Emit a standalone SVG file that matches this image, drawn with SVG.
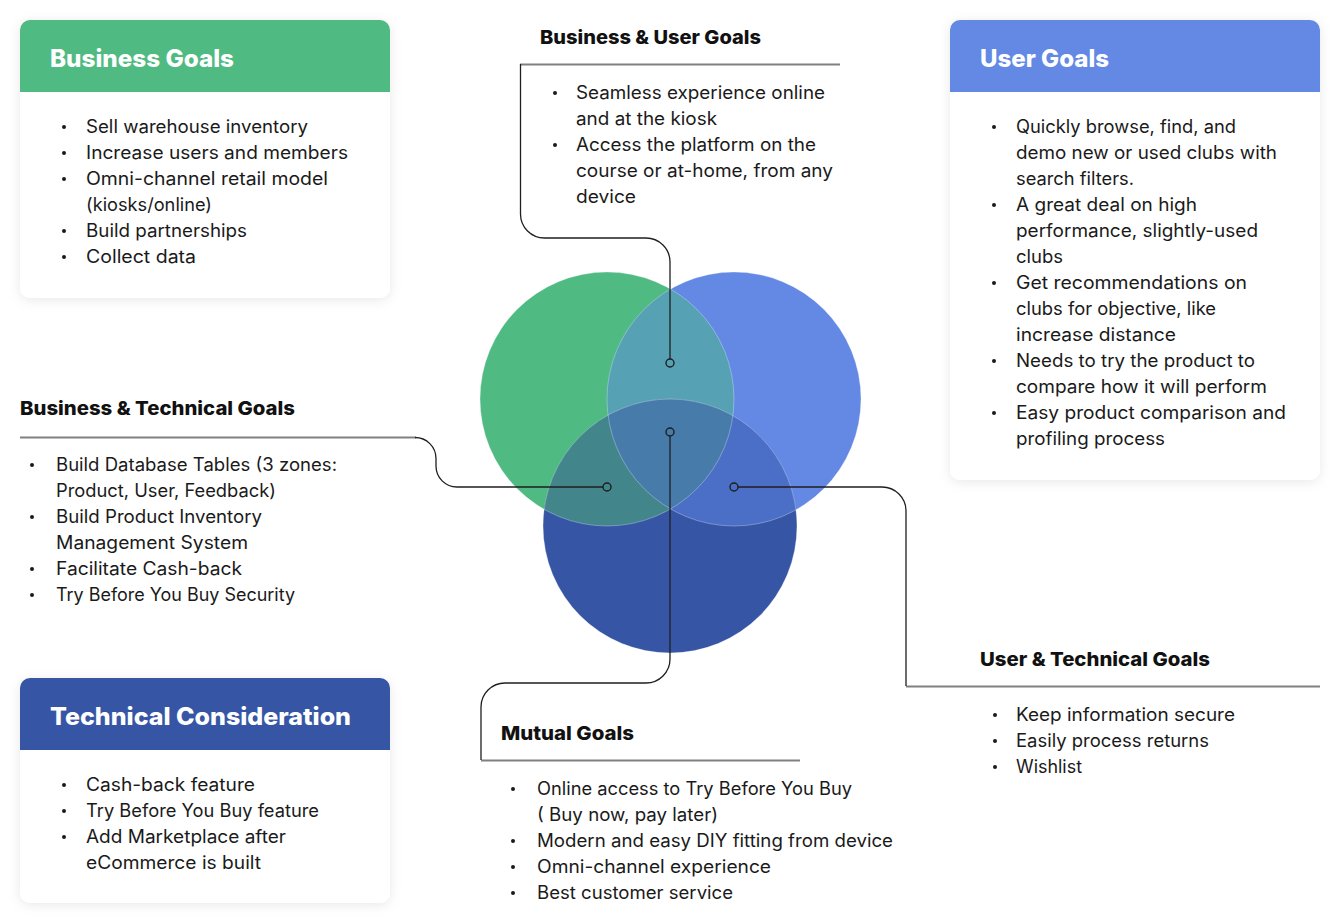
<svg xmlns="http://www.w3.org/2000/svg" width="1340" height="924" viewBox="0 0 1340 924">
<style>
.body{font-family:Inter,"Open Sans","Liberation Sans",sans-serif;font-size:18px;fill:#1a1a1a;}
.title{font-family:Inter,"Open Sans","Liberation Sans",sans-serif;font-size:24px;font-weight:800;fill:#ffffff;}
.sub{font-family:Inter,"Open Sans","Liberation Sans",sans-serif;font-size:19px;font-weight:800;fill:#111111;}
.card{fill:#ffffff;}
.bul{fill:#1a1a1a;}
.div{stroke:#808080;stroke-width:2;fill:none;}
.con{stroke:#1f1f1f;stroke-width:1.3;fill:none;}
.dot{stroke:#1f1f1f;stroke-width:1.4;fill:none;}
.edge{fill:none;stroke:#ffffff;stroke-opacity:0.3;stroke-width:1;}
</style>
<defs>
<filter id="sh" x="-10%" y="-10%" width="120%" height="120%">
<feDropShadow dx="0" dy="2" stdDeviation="6" flood-color="#000000" flood-opacity="0.09"/>
</filter>
<clipPath id="cG"><circle cx="607" cy="399" r="127"/></clipPath>
<clipPath id="cB"><circle cx="734" cy="399" r="127"/></clipPath>
</defs>
<rect width="1340" height="924" fill="#ffffff"/>

<g id="venn">
<circle cx="607" cy="399" r="127" fill="#4fba82"/>
<circle cx="734" cy="399" r="127" fill="#6389e5"/>
<circle cx="670" cy="526" r="127" fill="#3656a5"/>
<circle cx="734" cy="399" r="127" fill="#56a1b4" clip-path="url(#cG)"/>
<circle cx="670" cy="526" r="127" fill="#42868b" clip-path="url(#cG)"/>
<circle cx="670" cy="526" r="127" fill="#4b6fc7" clip-path="url(#cB)"/>
<g clip-path="url(#cG)"><circle cx="670" cy="526" r="127" fill="#477baa" clip-path="url(#cB)"/></g>
<circle class="edge" cx="607" cy="399" r="127"/>
<circle class="edge" cx="734" cy="399" r="127"/>
<circle class="edge" cx="670" cy="526" r="127"/>
</g>

<g id="business-goals">
<rect class="card" x="20" y="20" width="370" height="278" rx="10" filter="url(#sh)"/>
<path d="M20,92 V30 A10,10 0 0 1 30,20 H380 A10,10 0 0 1 390,30 V92 Z" fill="#4fba82"/>
<text class="title" x="50" y="67" textLength="184" lengthAdjust="spacingAndGlyphs">Business Goals</text>
<circle class="bul" cx="64" cy="127" r="2"/>
<circle class="bul" cx="64" cy="153" r="2"/>
<circle class="bul" cx="64" cy="179" r="2"/>
<circle class="bul" cx="64" cy="231" r="2"/>
<circle class="bul" cx="64" cy="257" r="2"/>
<text class="body" x="86" y="133" textLength="222" lengthAdjust="spacingAndGlyphs">Sell warehouse inventory</text>
<text class="body" x="86" y="159" textLength="262" lengthAdjust="spacingAndGlyphs">Increase users and members</text>
<text class="body" x="86" y="185" textLength="242" lengthAdjust="spacingAndGlyphs">Omni-channel retail model</text>
<text class="body" x="86" y="211" textLength="126" lengthAdjust="spacingAndGlyphs">(kiosks/online)</text>
<text class="body" x="86" y="237" textLength="161" lengthAdjust="spacingAndGlyphs">Build partnerships</text>
<text class="body" x="86" y="263" textLength="110" lengthAdjust="spacingAndGlyphs">Collect data</text>
</g>

<g id="user-goals">
<rect class="card" x="950" y="20" width="370" height="460" rx="10" filter="url(#sh)"/>
<path d="M950,92 V30 A10,10 0 0 1 960,20 H1310 A10,10 0 0 1 1320,30 V92 Z" fill="#6389e5"/>
<text class="title" x="980" y="67" textLength="129" lengthAdjust="spacingAndGlyphs">User Goals</text>
<circle class="bul" cx="994" cy="127" r="2"/>
<circle class="bul" cx="994" cy="205" r="2"/>
<circle class="bul" cx="994" cy="283" r="2"/>
<circle class="bul" cx="994" cy="361" r="2"/>
<circle class="bul" cx="994" cy="413" r="2"/>
<text class="body" x="1016" y="133" textLength="220" lengthAdjust="spacingAndGlyphs">Quickly browse, find, and</text>
<text class="body" x="1016" y="159" textLength="261" lengthAdjust="spacingAndGlyphs">demo new or used clubs with</text>
<text class="body" x="1016" y="185" textLength="118" lengthAdjust="spacingAndGlyphs">search filters.</text>
<text class="body" x="1016" y="211" textLength="181" lengthAdjust="spacingAndGlyphs">A great deal on high</text>
<text class="body" x="1016" y="237" textLength="242" lengthAdjust="spacingAndGlyphs">performance, slightly-used</text>
<text class="body" x="1016" y="263" textLength="47" lengthAdjust="spacingAndGlyphs">clubs</text>
<text class="body" x="1016" y="289" textLength="231" lengthAdjust="spacingAndGlyphs">Get recommendations on</text>
<text class="body" x="1016" y="315" textLength="200" lengthAdjust="spacingAndGlyphs">clubs for objective, like</text>
<text class="body" x="1016" y="341" textLength="160" lengthAdjust="spacingAndGlyphs">increase distance</text>
<text class="body" x="1016" y="367" textLength="239" lengthAdjust="spacingAndGlyphs">Needs to try the product to</text>
<text class="body" x="1016" y="393" textLength="251" lengthAdjust="spacingAndGlyphs">compare how it will perform</text>
<text class="body" x="1016" y="419" textLength="270" lengthAdjust="spacingAndGlyphs">Easy product comparison and</text>
<text class="body" x="1016" y="445" textLength="149" lengthAdjust="spacingAndGlyphs">profiling process</text>
</g>

<g id="technical-consideration">
<rect class="card" x="20" y="678" width="370" height="225" rx="10" filter="url(#sh)"/>
<path d="M20,750 V688 A10,10 0 0 1 30,678 H380 A10,10 0 0 1 390,688 V750 Z" fill="#3656a5"/>
<text class="title" x="50" y="725" textLength="301" lengthAdjust="spacingAndGlyphs">Technical Consideration</text>
<circle class="bul" cx="64" cy="785" r="2"/>
<circle class="bul" cx="64" cy="811" r="2"/>
<circle class="bul" cx="64" cy="837" r="2"/>
<text class="body" x="86" y="791" textLength="169" lengthAdjust="spacingAndGlyphs">Cash-back feature</text>
<text class="body" x="86" y="817" textLength="233" lengthAdjust="spacingAndGlyphs">Try Before You Buy feature</text>
<text class="body" x="86" y="843" textLength="200" lengthAdjust="spacingAndGlyphs">Add Marketplace after</text>
<text class="body" x="86" y="869" textLength="175" lengthAdjust="spacingAndGlyphs">eCommerce is built</text>
</g>

<g id="business-user-goals">
<text class="sub" x="540" y="44" textLength="221" lengthAdjust="spacingAndGlyphs">Business &amp; User Goals</text>
<path class="div" d="M520,64.5 H840"/>
<circle class="bul" cx="555" cy="93" r="2"/>
<circle class="bul" cx="555" cy="145" r="2"/>
<text class="body" x="576" y="99" textLength="249" lengthAdjust="spacingAndGlyphs">Seamless experience online</text>
<text class="body" x="576" y="125" textLength="141" lengthAdjust="spacingAndGlyphs">and at the kiosk</text>
<text class="body" x="576" y="151" textLength="240" lengthAdjust="spacingAndGlyphs">Access the platform on the</text>
<text class="body" x="576" y="177" textLength="257" lengthAdjust="spacingAndGlyphs">course or at-home, from any</text>
<text class="body" x="576" y="203" textLength="60" lengthAdjust="spacingAndGlyphs">device</text>
</g>

<g id="business-technical-goals">
<text class="sub" x="20" y="415" textLength="275" lengthAdjust="spacingAndGlyphs">Business &amp; Technical Goals</text>
<path class="div" d="M20,437.5 H416"/>
<circle class="bul" cx="32" cy="465" r="2"/>
<circle class="bul" cx="32" cy="517" r="2"/>
<circle class="bul" cx="32" cy="569" r="2"/>
<circle class="bul" cx="32" cy="595" r="2"/>
<text class="body" x="56" y="471" textLength="281" lengthAdjust="spacingAndGlyphs">Build Database Tables (3 zones:</text>
<text class="body" x="56" y="497" textLength="220" lengthAdjust="spacingAndGlyphs">Product, User, Feedback)</text>
<text class="body" x="56" y="523" textLength="206" lengthAdjust="spacingAndGlyphs">Build Product Inventory</text>
<text class="body" x="56" y="549" textLength="192" lengthAdjust="spacingAndGlyphs">Management System</text>
<text class="body" x="56" y="575" textLength="186" lengthAdjust="spacingAndGlyphs">Facilitate Cash-back</text>
<text class="body" x="56" y="601" textLength="239" lengthAdjust="spacingAndGlyphs">Try Before You Buy Security</text>
</g>

<g id="user-technical-goals">
<text class="sub" x="980" y="666" textLength="230" lengthAdjust="spacingAndGlyphs">User &amp; Technical Goals</text>
<path class="div" d="M906,686.5 H1320"/>
<circle class="bul" cx="995" cy="715" r="2"/>
<circle class="bul" cx="995" cy="741" r="2"/>
<circle class="bul" cx="995" cy="767" r="2"/>
<text class="body" x="1016" y="721" textLength="219" lengthAdjust="spacingAndGlyphs">Keep information secure</text>
<text class="body" x="1016" y="747" textLength="193" lengthAdjust="spacingAndGlyphs">Easily process returns</text>
<text class="body" x="1016" y="773" textLength="66" lengthAdjust="spacingAndGlyphs">Wishlist</text>
</g>

<g id="mutual-goals">
<text class="sub" x="501" y="740" textLength="133" lengthAdjust="spacingAndGlyphs">Mutual Goals</text>
<path class="div" d="M481,760.5 H800"/>
<circle class="bul" cx="513" cy="789" r="2"/>
<circle class="bul" cx="513" cy="841" r="2"/>
<circle class="bul" cx="513" cy="867" r="2"/>
<circle class="bul" cx="513" cy="893" r="2"/>
<text class="body" x="537" y="795" textLength="315" lengthAdjust="spacingAndGlyphs">Online access to Try Before You Buy</text>
<text class="body" x="537" y="821" textLength="181" lengthAdjust="spacingAndGlyphs">( Buy now, pay later)</text>
<text class="body" x="537" y="847" textLength="356" lengthAdjust="spacingAndGlyphs">Modern and easy DIY fitting from device</text>
<text class="body" x="537" y="873" textLength="234" lengthAdjust="spacingAndGlyphs">Omni-channel experience</text>
<text class="body" x="537" y="899" textLength="196" lengthAdjust="spacingAndGlyphs">Best customer service</text>
</g>

<g id="connectors">
<path class="con" d="M520.5,64 V214 A24,24 0 0 0 544.5,238 H646 A24,24 0 0 1 670,262 V359"/>
<path class="con" d="M415,437.5 A21,21 0 0 1 436,458.5 V466 A21,21 0 0 0 457,487 H603"/>
<path class="con" d="M738,487 H882 A24,24 0 0 1 906,511 V686"/>
<path class="con" d="M670,436 V659 A24,24 0 0 1 646,683 H505 A24,24 0 0 0 481,707 V760"/>
<circle class="dot" cx="670" cy="363" r="4"/>
<circle class="dot" cx="670" cy="432" r="4"/>
<circle class="dot" cx="607" cy="487" r="4"/>
<circle class="dot" cx="734" cy="487" r="4"/>
</g>
</svg>
